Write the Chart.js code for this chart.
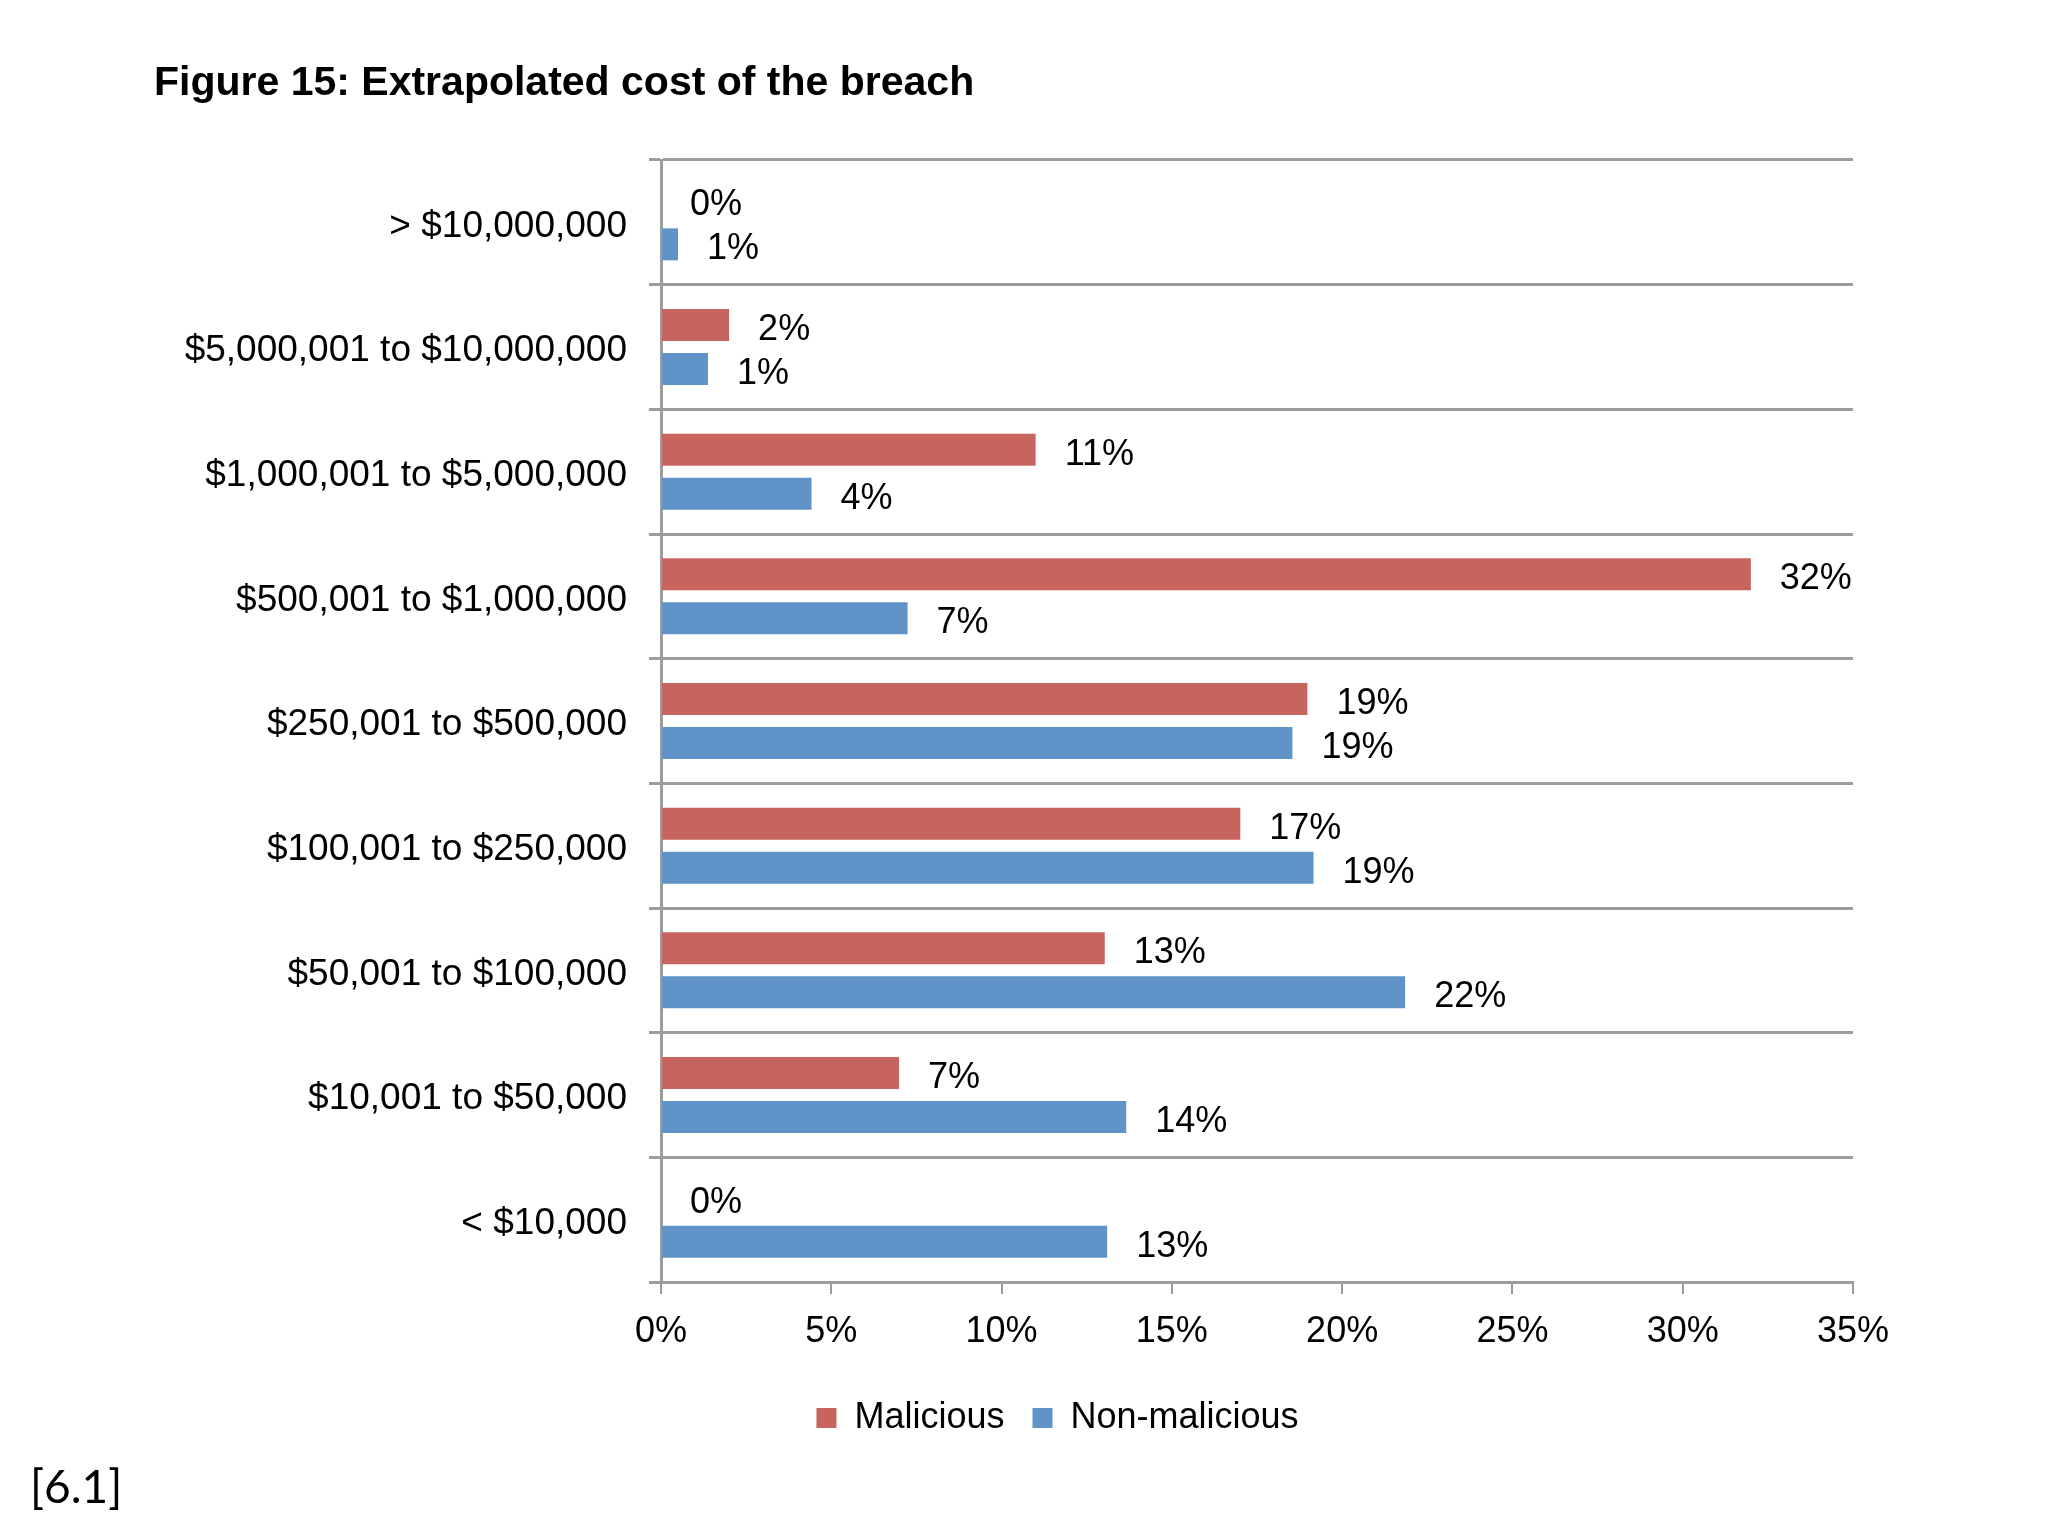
<!DOCTYPE html>
<html>
<head>
<meta charset="utf-8">
<script src="https://cdn.jsdelivr.net/npm/chart.js@4"></script>
<style>
  html, body { margin: 0; padding: 0; background: #ffffff; }
  #wrap { width: 2048px; height: 1536px; position: relative; }
  canvas { display: block; }
</style>
</head>
<body>
<div id="wrap"><canvas id="c" width="2048" height="1536"></canvas></div>
<script>
const categories = [
  '> $10,000,000',
  '$5,000,001 to $10,000,000',
  '$1,000,001 to $5,000,000',
  '$500,001 to $1,000,000',
  '$250,001 to $500,000',
  '$100,001 to $250,000',
  '$50,001 to $100,000',
  '$10,001 to $50,000',
  '< $10,000'
];
const seriesNames = ['Malicious', 'Non-malicious'];
const malicious    = [0, 2.0, 11.0, 32.0, 18.98, 17.01, 13.03, 6.99, 0];
const nonMalicious = [0.5, 1.38, 4.42, 7.24, 18.54, 19.16, 21.85, 13.66, 13.10];
const xTicks = [0, 5, 10, 15, 20, 25, 30, 35];
const titleText = 'Figure 15: Extrapolated cost of the breach';
const footnoteText = '[6.1]';

const FONT = '"Liberation Sans", Arial, sans-serif';
const GRID = '#9c9c9c';
const LEGEND_SHIFT = 131;

const decorPlugin = {
  id: 'decor',
  afterLayout(chart) {
    if (chart.legend) {
      chart.legend.left += LEGEND_SHIFT;
      chart.legend.right += LEGEND_SHIFT;
    }
  },
  beforeDraw(chart) {
    const ctx = chart.ctx;
    ctx.save();
    ctx.fillStyle = '#ffffff';
    ctx.fillRect(0, 0, chart.width, chart.height);
    ctx.restore();
  },
  afterDraw(chart) {
    const ctx = chart.ctx;
    ctx.save();
    ctx.fillStyle = '#000000';
    ctx.textAlign = 'left';
    ctx.textBaseline = 'alphabetic';
    ctx.font = 'bold 41px ' + FONT;
    ctx.fillText(titleText, 154, 95);
    ctx.font = '46px Lato, "Open Sans", sans-serif';
    ctx.fillText(footnoteText, 30, 1503);
    ctx.restore();
  }
};

const valueLabelPlugin = {
  id: 'valueLabels',
  afterDatasetsDraw(chart) {
    const ctx = chart.ctx;
    ctx.save();
    ctx.fillStyle = '#000000';
    ctx.font = '36px ' + FONT;
    ctx.textAlign = 'left';
    ctx.textBaseline = 'middle';
    chart.data.datasets.forEach((ds, di) => {
      const meta = chart.getDatasetMeta(di);
      meta.data.forEach((el, i) => {
        const v = ds.data[i];
        ctx.fillText(Math.round(v) + '%', el.x + 29, el.y + 5);
      });
    });
    ctx.restore();
  }
};

new Chart(document.getElementById('c'), {
  type: 'bar',
  data: {
    labels: categories,
    datasets: [
      { label: seriesNames[0], data: malicious, backgroundColor: '#c8645e', borderWidth: 0,
        categoryPercentage: 0.706, barPercentage: 0.727 },
      { label: seriesNames[1], data: nonMalicious, backgroundColor: '#6094c8', borderWidth: 0,
        categoryPercentage: 0.706, barPercentage: 0.727 }
    ]
  },
  options: {
    indexAxis: 'y',
    responsive: false,
    animation: false,
    devicePixelRatio: 1,
    layout: { padding: { left: 0, right: 195, top: 160, bottom: 90 } },
    scales: {
      x: {
        min: 0, max: 35,
        afterBuildTicks(scale) { scale.ticks = xTicks.map(v => ({ value: v })); },
        afterFit(scale) { scale.height = 90; },
        ticks: {
          callback: v => v + '%',
          color: '#000000',
          font: { family: FONT, size: 36 },
          padding: 16,
          maxRotation: 0
        },
        grid: { drawOnChartArea: false, drawTicks: true, tickLength: 12, color: GRID, lineWidth: 2 },
        border: { display: true, color: GRID, width: 3 }
      },
      y: {
        afterFit(scale) { scale.width = 661; },
        ticks: {
          color: '#000000',
          font: { family: FONT, size: 37 },
          padding: 22,
          labelOffset: 4,
          autoSkip: false
        },
        grid: { offset: true, drawOnChartArea: true, drawTicks: true, tickLength: 12, color: GRID, lineWidth: 3 },
        border: { display: true, color: GRID, width: 3 }
      }
    },
    plugins: {
      legend: {
        position: 'bottom',
        align: 'center',
        labels: {
          boxWidth: 20, boxHeight: 20,
          padding: 28,
          color: '#000000',
          font: { family: FONT, size: 36 }
        }
      },
      title: { display: false },
      tooltip: { enabled: false }
    }
  },
  plugins: [decorPlugin, valueLabelPlugin]
});
</script>
</body>
</html>
